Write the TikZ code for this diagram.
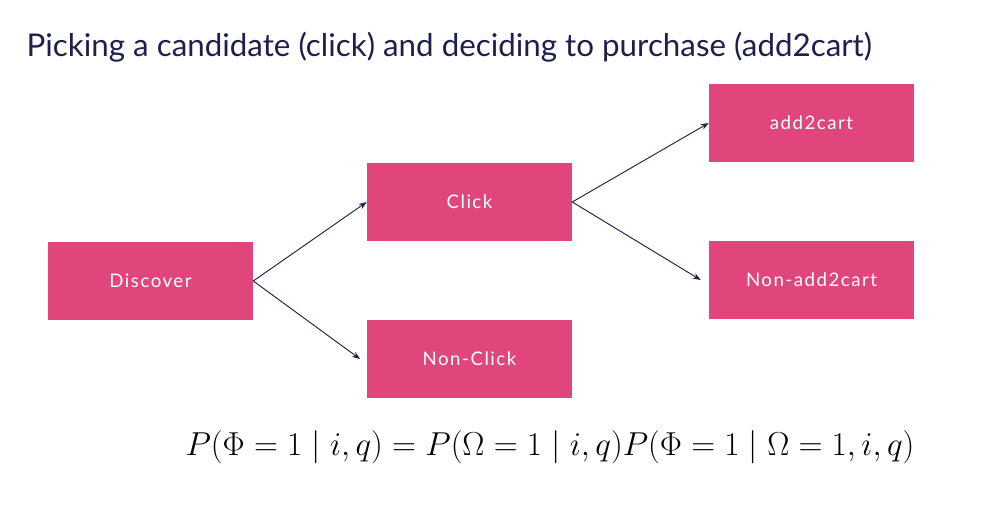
\documentclass[tikz,border=0pt]{standalone}
\usepackage{fontspec}
\setmainfont{Lato}
\usetikzlibrary{arrows.meta}
\definecolor{pinkbox}{HTML}{E0457B}
\definecolor{navy}{HTML}{1E1F4B}
\begin{document}
\begin{tikzpicture}[x=0.75pt,y=-0.75pt,
  box/.style={fill=pinkbox,draw=none,minimum width=153.75pt,minimum height=58.5pt,text=white,font=\fontsize{14}{16}\selectfont\addfontfeatures{LetterSpace=8}},
  arr/.style={draw=navy,line width=0.7pt,-{Stealth[length=6pt,width=4.5pt]}}]
\useasboundingbox (0,0) rectangle (982,504);
\node[anchor=west,text=navy,font=\fontsize{23.5}{27}\selectfont] (title) at (22,47) {Picking a candidate (click) and deciding to purchase (add2cart)};
\node[box] (disc) at (150.5,281) {Discover};
\node[box] (click) at (469.5,202) {Click};
\node[box] (nclick) at (469.5,359) {Non-Click};
\node[box] (add) at (811.5,123) {add2cart};
\node[box] (nadd) at (811.5,280) {Non-add2cart};
\draw[arr] (disc.east) -- (click.west);
\draw[arr] (disc.east) -- ([xshift=-5pt]nclick.west);
\draw[arr] (click.east) -- (add.west);
\draw[arr] (click.east) -- ([xshift=-6pt]nadd.west);
\node[font=\fontsize{23.5}{27}\selectfont,text=black] (eq) at (550,447) {$P(\Phi = 1 \mid i, q) = P(\Omega = 1 \mid i, q) P(\Phi = 1 \mid \Omega = 1, i, q)$};
\end{tikzpicture}
\end{document}
